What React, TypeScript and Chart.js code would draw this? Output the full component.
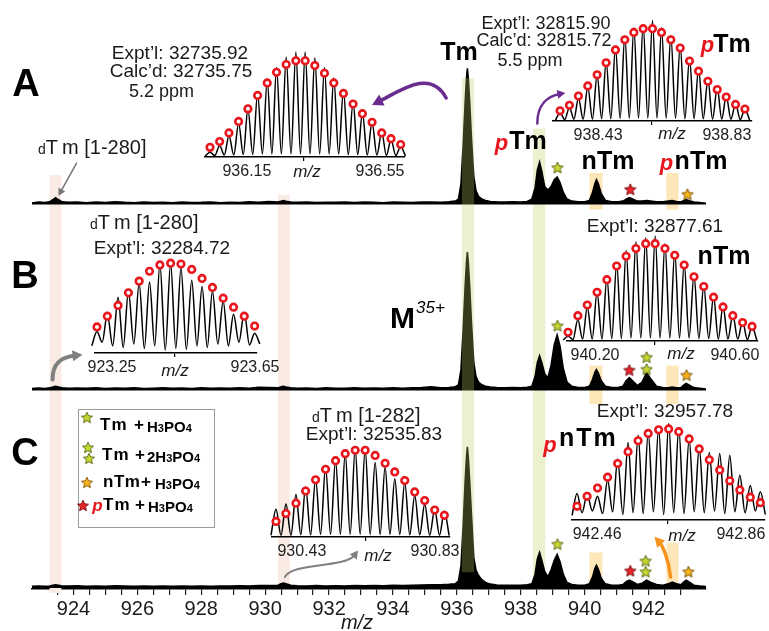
import React, { useEffect, useRef } from 'react';
import { Chart, registerables } from 'chart.js';

Chart.register(...registerables);

const FONT = '"Liberation Sans", Arial, Helvetica, sans-serif';

// ================= main spectra (shared m/z grid, three panels) =================
const mzGrid = [
  922.70, 922.90, 923.10, 923.25, 923.35, 923.44, 923.53, 923.65, 923.85, 924.10,
  924.40, 924.70, 925.00, 925.30, 925.60, 925.90, 926.20, 926.50, 926.80, 927.10,
  927.40, 927.70, 928.00, 928.30, 928.60, 928.90, 929.20, 929.50, 929.80, 930.10,
  930.40, 930.50, 930.57, 930.65, 930.80, 931.00, 931.30, 931.60, 931.90, 932.20,
  932.50, 932.80, 933.10, 933.40, 933.70, 934.00, 934.30, 934.60, 934.90, 935.20,
  935.50, 935.75, 935.95, 936.05, 936.13, 936.20, 936.26, 936.30, 936.33, 936.36,
  936.40, 936.46, 936.53, 936.60, 936.68, 936.78, 936.90, 937.05, 937.25, 937.50,
  937.75, 938.00, 938.20, 938.35, 938.45, 938.52, 938.59, 938.66, 938.75, 938.85,
  938.95, 939.05, 939.14, 939.23, 939.33, 939.45, 939.60, 939.80, 940.00, 940.15,
  940.25, 940.32, 940.37, 940.43, 940.52, 940.65, 940.85, 941.05, 941.20, 941.30,
  941.40, 941.50, 941.65, 941.80, 941.94, 942.08, 942.25, 942.45, 942.62, 942.74,
  942.88, 943.02, 943.10, 943.18, 943.28, 943.42, 943.60, 943.80,
];
const intensityA = [
  1.2, 1.8, 1.5, 2, 3.5, 5, 3.5, 2, 1.6, 1.9,
  1.4, 1.8, 1.5, 2.0, 1.6, 1.4, 1.9, 1.5, 1.7, 1.4,
  1.8, 1.5, 1.6, 1.9, 1.4, 1.7, 1.5, 2.0, 1.6, 2.2,
  1.8, 2.5, 3, 2.5, 1.8, 1.6, 1.9, 1.5, 1.7, 1.6,
  1.9, 1.5, 1.8, 1.6, 1.4, 1.9, 1.7, 1.5, 1.8, 1.9,
  1.7, 2.0, 2.5, 4, 15, 44, 74, 91, 98.6, 91,
  75, 47, 20, 10, 6, 4, 3, 2.3, 2, 1.8,
  2.0, 1.8, 2.2, 4, 12, 25, 30.7, 24, 13, 10.5,
  13, 18, 20, 16, 9, 4, 2.5, 2, 2, 3,
  9, 15, 17.9, 15, 8, 3, 2, 2, 2.5, 4,
  5, 4, 2.5, 2.5, 3, 2.5, 2, 2, 2.5, 2.9,
  2.3, 2, 3, 3.6, 2.8, 1.8, 1.5, 1,
];
const intensityB = [
  1.3, 1.6, 1.4, 1.8, 2.5, 2.9, 2.5, 1.8, 1.5, 1.7,
  1.5, 1.9, 1.4, 1.7, 1.5, 1.8, 1.4, 1.6, 1.9, 1.5,
  1.7, 1.4, 1.8, 1.5, 1.7, 1.5, 1.9, 1.6, 2.2, 2.0,
  1.8, 2.6, 3, 2.5, 1.8, 1.5, 1.7, 1.4, 1.8, 1.6,
  1.5, 1.8, 1.6, 1.7, 1.5, 1.9, 1.6, 1.8, 2.0, 2.6,
  1.9, 2.1, 2.6, 4, 15, 45, 75, 92, 100, 92,
  76, 48, 20, 10, 6, 4, 3, 2.4, 2, 1.9,
  2.0, 1.8, 2.2, 3, 10, 20, 25, 20, 12, 9,
  18, 33, 40, 32, 16, 6, 3, 2, 2, 3,
  8, 13, 15, 12.5, 7, 3, 2, 2, 3, 7,
  9.3, 7, 3.5, 6, 12.9, 8, 3, 2, 1.8, 2.4,
  1.8, 2, 3.8, 5, 3.8, 2, 1.5, 1,
];
const intensityC = [
  1.2, 1.5, 1.3, 1.5, 2, 2.3, 2, 1.5, 1.4, 1.6,
  1.3, 1.5, 1.2, 1.6, 1.4, 1.3, 1.5, 1.2, 1.4, 1.3,
  1.5, 1.3, 1.4, 1.2, 1.5, 1.4, 1.6, 1.4, 1.8, 1.7,
  2, 3, 3.6, 3, 2, 1.6, 1.5, 1.7, 1.4, 1.6,
  1.5, 1.7, 1.6, 1.8, 1.6, 1.9, 1.7, 2.0, 2.2, 2.4,
  2.3, 2.6, 3, 5, 16, 46, 77, 94, 102, 94,
  78, 52, 22, 13, 9, 6, 4, 2.8, 2.2, 2,
  2.0, 2.0, 2.3, 3, 10, 21, 25.7, 20, 12, 8,
  13, 20, 24.3, 19, 10, 4, 2.5, 2, 2, 3,
  8, 14, 16.4, 13.5, 7, 3, 2, 2, 2.5, 4.5,
  5.7, 4.5, 2.5, 3.5, 5.7, 4, 2.5, 2, 3, 4.3,
  3, 2.3, 4.2, 5.7, 4.2, 2, 1.5, 1,
];
const xTickLabels = [924, 926, 928, 930, 932, 934, 936, 938, 940, 942];

// star markers [m/z, intensity]
const greenStarsA = [[939.15, 26.4]];
const greenStarsB = [[939.15, 46.4], [941.94, 23.6], [941.94, 15.0]];
const greenStarsC = [[939.15, 31.4], [941.91, 19.3], [941.91, 11.4]];
const redStarsA = [[941.43, 10.7]];
const redStarsB = [[941.40, 14.3]];
const redStarsC = [[941.43, 12.1]];
const orangeStarsA = [[943.22, 7.1]];
const orangeStarsB = [[943.19, 10.7]];
const orangeStarsC = [[943.25, 11.4]];

// ================= isotope insets =================
const a1Mz = [936.039, 936.068, 936.096, 936.125, 936.153, 936.182, 936.211, 936.239, 936.268, 936.297, 936.325, 936.354, 936.383, 936.411, 936.440, 936.469, 936.497, 936.526, 936.555, 936.583, 936.612];
const a1Peak = [5, 12, 22, 35, 50, 66, 80, 93, 104, 109, 109, 103, 93, 82, 69, 57, 46, 36, 26, 18, 11];
const a1Valley = [1, 1.5, 2, 2, 2.5, 2.5, 3, 3, 3, 3, 3, 3, 3, 3, 3, 2.5, 2.5, 2, 2, 1.5, 1.5, 1];
const a1Calc = [10, 16, 25, 37, 50, 64, 77, 88, 96, 100, 100, 95, 87, 77, 66, 55, 45, 36, 25, 19, 13];

const a2Mz = [938.312, 938.341, 938.369, 938.398, 938.427, 938.455, 938.484, 938.513, 938.541, 938.570, 938.599, 938.627, 938.656, 938.685, 938.714, 938.742, 938.771, 938.800, 938.828, 938.857, 938.886];
const a2Peak = [9, 15, 25, 37, 50, 65, 80, 92, 101, 104, 109, 101, 92, 82, 68, 57, 45, 36, 27, 19, 13];
const a2Valley = [1, 1.5, 2, 2, 2, 2.5, 2.5, 3, 3, 3, 3, 3, 3, 3, 2.5, 2.5, 2.5, 2, 2, 2, 1.5, 1];
const a2Calc = [11, 17, 27, 38, 50, 63, 77, 88, 96, 100, 100, 96, 88, 79, 65, 54, 43, 34, 26, 18, 13];

const b1Mz = [923.208, 923.237, 923.267, 923.296, 923.326, 923.355, 923.384, 923.414, 923.443, 923.473, 923.502, 923.531, 923.561, 923.590, 923.620, 923.649];
const b1Peak = [24, 43, 62, 69, 78, 79, 99, 100, 95, 81, 74, 69, 58, 43, 45, 22];
const b1Valley = [8, 12, 8, 6, 10, 5, 8, 3, 5, 4, 8, 6, 10, 8, 12, 9, 10];
const b1Calc = [29, 41, 53, 67, 80, 91, 98, 100, 99, 93, 83, 73, 61, 51, 41, 30];

const b2Mz = [940.123, 940.151, 940.178, 940.206, 940.234, 940.262, 940.289, 940.317, 940.345, 940.372, 940.400, 940.428, 940.455, 940.483, 940.511, 940.539, 940.566, 940.594, 940.622, 940.649];
const b2Peak = [5, 22, 35, 50, 65, 80, 93, 102, 106, 108, 100, 92, 80, 68, 57, 46, 36, 27, 20, 15];
const b2Valley = [1, 1.5, 2, 2, 2, 2.5, 2.5, 3, 3, 3, 3, 3, 3, 3, 2.5, 2.5, 2, 2, 2, 1.5, 1];
const b2Calc = [9, 26, 37, 50, 63, 77, 87, 95, 100, 100, 95, 88, 78, 66, 56, 45, 35, 26, 19, 15];

const c1Mz = [930.352, 930.382, 930.412, 930.441, 930.471, 930.501, 930.531, 930.560, 930.590, 930.620, 930.650, 930.680, 930.709, 930.739, 930.769, 930.799, 930.829, 930.858];
const c1Peak = [32, 38, 49, 58, 67, 81, 89, 97, 102, 102, 86, 81, 67, 63, 48, 38, 32, 30];
const c1Valley = [2, 2, 2, 2.5, 2.5, 3, 3, 3, 3, 3, 3, 3, 3, 3, 2.5, 2.5, 2, 2, 1.5];
const c1Calc = [18, 27, 39, 53, 66, 78, 88, 96, 100, 100, 94, 85, 75, 65, 52, 42, 31, 25];

const c2Mz = [942.404, 942.432, 942.461, 942.489, 942.517, 942.546, 942.574, 942.602, 942.631, 942.659, 942.687, 942.716, 942.744, 942.772, 942.801, 942.829, 942.857, 942.886, 942.914];
const c2Peak = [29, 28, 26, 44, 67, 85, 93, 97, 101, 106, 101, 89, 80, 74, 73, 71, 49, 38, 31];
const c2Valley = [5, 8, 10, 7, 9, 6, 8, 7, 9, 6, 8, 7, 9, 8, 10, 7, 9, 8, 10, 6];
const c2Calc = [15, 26, 35, 47, 62, 75, 87, 95, 99, 100, 97, 89, 78, 66, 55, 43, 33, 25, 19];

// ================= layout / style =================
const CANVAS_W = 769;
const CANVAS_H = 631;
const X_AXIS_H = 42;
const PLOT_BOTTOM = CANVAS_H - X_AXIS_H;
const PANEL_BASE = { yA: 200, yB: 388, yC: 588 };
const UNIT_PX = 1.4;
const RED = '#e8161d';

const STAR_GREEN = { fill: '#c5d631', stroke: '#5a6512' };
const STAR_RED = { fill: '#e8232a', stroke: '#7a0d10' };
const STAR_ORANGE = { fill: '#f7b21e', stroke: '#7d5300' };

// highlight bands: x in m/z, vertical limits given as [axis, value]
const highlightBands = [
  { from: 923.25, to: 923.62, top: ['yA', 21.4], bottom: ['yC', -3.6], color: '#f9ebe4', overlay: false },
  { from: 930.40, to: 930.77, top: ['yA', 7.1], bottom: ['yC', 2.9], color: '#f9ebe4', overlay: false },
  { from: 938.38, to: 938.77, top: ['yA', 55], bottom: ['yC', 0], color: '#ecf0cf', overlay: false },
  { from: 940.15, to: 940.56, top: ['yA', 22.9], bottom: ['yA', -3.6], color: '#fde7b8', overlay: false },
  { from: 942.56, to: 942.94, top: ['yA', 22.9], bottom: ['yA', -3.6], color: '#fde7b8', overlay: false },
  { from: 940.15, to: 940.56, top: ['yB', 17.9], bottom: ['yB', -10], color: '#fde7b8', overlay: false },
  { from: 942.56, to: 942.94, top: ['yB', 17.9], bottom: ['yB', -10], color: '#fde7b8', overlay: false },
  { from: 940.15, to: 940.56, top: ['yC', 25.7], bottom: ['yC', 2.1], color: '#fde7b8', overlay: false },
  { from: 942.56, to: 942.94, top: ['yC', 32.9], bottom: ['yC', 2.9], color: '#fde7b8', overlay: false },
  { from: 936.16, to: 936.54, top: ['yA', 91.4], bottom: ['yC', 11.4], color: 'rgba(190,205,95,0.29)', overlay: true },
];

// annotation arrows: points in [m/z, value] on the given panel axis
const arrows = [
  { axis: 'yA', pts: [[935.665, 77.1], [935.163, 98.6], [934.223, 82.1], [933.345, 72.1]], color: '#6a2c8e', width: 3.5, head: 11 },
  { axis: 'yA', pts: [[938.519, 58.6], [938.519, 72.9], [938.864, 78.6], [939.397, 80.7]], color: '#6a2c8e', width: 2.5, head: 8 },
  { axis: 'yA', pts: [[924.094, 30], [923.53, 6.4]], color: '#777777', width: 1.5, head: 7 },
  { axis: 'yB', pts: [[923.342, 7.9], [923.342, 20], [923.624, 24.3], [924.282, 25.7]], color: '#7f7f7f', width: 4, head: 10 },
  { axis: 'yC', pts: [[930.617, 7.9], [930.836, 18.6], [932.498, 14.3], [932.906, 27.1]], color: '#808080', width: 2, head: 8 },
  { axis: 'yC', pts: [[942.69, 7.9], [942.627, 21.4], [942.439, 30.7], [942.187, 37.1]], color: '#f7941d', width: 3.5, head: 10 },
];

function panelRange(axis: 'yA' | 'yB' | 'yC') {
  const base = PANEL_BASE[axis];
  return { min: -(PLOT_BOTTOM - base) / UNIT_PX, max: base / UNIT_PX };
}

function makeStarCanvas(fill: string, stroke: string, R: number) {
  const size = Math.ceil(R * 2 + 4);
  const c = document.createElement('canvas');
  c.width = size;
  c.height = size;
  const g = c.getContext('2d')!;
  g.beginPath();
  for (let i = 0; i < 10; i++) {
    const ang = -Math.PI / 2 + (i * Math.PI) / 5;
    const rad = i % 2 === 0 ? R : R * 0.46;
    const px = size / 2 + rad * Math.cos(ang);
    const py = size / 2 + rad * Math.sin(ang);
    if (i === 0) g.moveTo(px, py);
    else g.lineTo(px, py);
  }
  g.closePath();
  g.fillStyle = fill;
  g.fill();
  g.lineWidth = 1;
  g.strokeStyle = stroke;
  g.stroke();
  return c;
}

function drawBands(chart: any, overlay: boolean) {
  const { ctx, scales } = chart;
  ctx.save();
  for (const b of highlightBands) {
    if (b.overlay !== overlay) continue;
    const x0 = scales.x.getPixelForValue(b.from);
    const x1 = scales.x.getPixelForValue(b.to);
    const y0 = scales[b.top[0] as string].getPixelForValue(b.top[1] as number);
    const y1 = scales[b.bottom[0] as string].getPixelForValue(b.bottom[1] as number);
    ctx.fillStyle = b.color;
    ctx.fillRect(x0, y0, x1 - x0, y1 - y0);
  }
  ctx.restore();
}

function drawArrows(chart: any) {
  const { ctx, scales } = chart;
  for (const a of arrows) {
    const P = a.pts.map(([m, v]) => [scales.x.getPixelForValue(m), scales[a.axis].getPixelForValue(v)]);
    const end = P[P.length - 1];
    const prev = P[P.length - 2];
    const ang = Math.atan2(end[1] - prev[1], end[0] - prev[0]);
    const cx = Math.cos(ang), sy = Math.sin(ang);
    const bx = end[0] - cx * a.head * 0.7, by = end[1] - sy * a.head * 0.7;
    ctx.save();
    ctx.strokeStyle = a.color;
    ctx.fillStyle = a.color;
    ctx.lineWidth = a.width;
    ctx.lineCap = 'round';
    ctx.beginPath();
    ctx.moveTo(P[0][0], P[0][1]);
    if (P.length === 4) ctx.bezierCurveTo(P[1][0], P[1][1], P[2][0], P[2][1], bx, by);
    else ctx.lineTo(bx, by);
    ctx.stroke();
    const h = a.head, w = a.head * 0.55;
    ctx.beginPath();
    ctx.moveTo(end[0], end[1]);
    ctx.lineTo(end[0] - h * cx + w * sy, end[1] - h * sy - w * cx);
    ctx.lineTo(end[0] - h * cx - w * sy, end[1] - h * sy + w * cx);
    ctx.closePath();
    ctx.fill();
    ctx.restore();
  }
}

const decorPlugin = {
  id: 'decor',
  beforeDatasetsDraw(chart: any) { drawBands(chart, false); },
  afterDatasetsDraw(chart: any) { drawBands(chart, true); drawArrows(chart); },
};

function MainChart() {
  const ref = useRef<HTMLCanvasElement>(null);
  useEffect(() => {
    const green = makeStarCanvas(STAR_GREEN.fill, STAR_GREEN.stroke, 6);
    const red = makeStarCanvas(STAR_RED.fill, STAR_RED.stroke, 6);
    const orange = makeStarCanvas(STAR_ORANGE.fill, STAR_ORANGE.stroke, 6);
    const spectrum = (vals: number[], axis: string) => ({
      type: 'line',
      data: mzGrid.map((x, i) => ({ x, y: vals[i] })),
      yAxisID: axis,
      borderColor: '#000',
      backgroundColor: '#000',
      borderWidth: 1.6,
      fill: 'origin',
      pointRadius: 0,
      tension: 0,
      order: 2,
    });
    const stars = (pts: number[][], axis: string, img: HTMLCanvasElement) => ({
      type: 'scatter',
      data: pts.map(([x, y]) => ({ x, y })),
      yAxisID: axis,
      pointStyle: img,
      pointRadius: 6,
      order: 0,
      clip: false,
    });
    const chart = new Chart(ref.current!, {
      type: 'line',
      data: {
        datasets: [
          spectrum(intensityA, 'yA'),
          spectrum(intensityB, 'yB'),
          spectrum(intensityC, 'yC'),
          stars(greenStarsA, 'yA', green),
          stars(greenStarsB, 'yB', green),
          stars(greenStarsC, 'yC', green),
          stars(redStarsA, 'yA', red),
          stars(redStarsB, 'yB', red),
          stars(redStarsC, 'yC', red),
          stars(orangeStarsA, 'yA', orange),
          stars(orangeStarsB, 'yB', orange),
          stars(orangeStarsC, 'yC', orange),
        ] as any,
      },
      options: {
        animation: false,
        responsive: false,
        devicePixelRatio: 1,
        events: [],
        layout: { padding: { left: 32, right: 63, top: 0, bottom: 0 } },
        plugins: { legend: { display: false }, tooltip: { enabled: false }, title: { display: false } },
        scales: {
          x: {
            type: 'linear',
            position: 'bottom',
            min: 922.7,
            max: 943.8,
            afterBuildTicks: (s: any) => {
              s.ticks = s.ticks.filter((t: any) => Math.abs(t.value * 2 - Math.round(t.value * 2)) < 1e-6);
            },
            afterFit: (s: any) => { s.height = X_AXIS_H; },
            ticks: {
              stepSize: 0.5,
              autoSkip: false,
              maxRotation: 0,
              padding: 2,
              color: '#1a1a1a',
              font: { family: FONT, size: 20 },
              callback: (v: any) => (xTickLabels.includes(Number(v)) ? String(v) : ''),
            },
            grid: { display: true, drawOnChartArea: false, drawTicks: true, tickLength: 6, color: '#222', lineWidth: 1.2 },
            border: { display: true, color: '#000', width: 1.5 },
          },
          yA: { type: 'linear', display: false, ...panelRange('yA') },
          yB: { type: 'linear', display: false, ...panelRange('yB') },
          yC: { type: 'linear', display: false, ...panelRange('yC') },
        },
      } as any,
      plugins: [decorPlugin],
    });
    return () => chart.destroy();
  }, []);
  return (
    <canvas
      ref={ref}
      width={CANVAS_W}
      height={CANVAS_H}
      style={{ position: 'absolute', left: 0, top: 0, width: CANVAS_W, height: CANVAS_H }}
    />
  );
}

type InsetSpec = {
  id: string; mz: number[]; peak: number[]; valley: number[]; calc: number[];
  lo: number; hi: number; mid: number; xMin: number; xMax: number; yMax: number;
  left: number; right: number; top: number; axisY: number;
};

const insetSpecs: InsetSpec[] = [
  { id: 'A1', mz: a1Mz, peak: a1Peak, valley: a1Valley, calc: a1Calc, lo: 936.15, hi: 936.55, mid: 936.319, xMin: 936.024, xMax: 936.625, yMax: 114.7, left: 205, right: 405, top: 40, axisY: 157 },
  { id: 'A2', mz: a2Mz, peak: a2Peak, valley: a2Valley, calc: a2Calc, lo: 938.43, hi: 938.83, mid: 938.597, xMin: 938.29, xMax: 938.908, yMax: 115.3, left: 553, right: 752, top: 8, axisY: 121 },
  { id: 'B1', mz: b1Mz, peak: b1Peak, valley: b1Valley, calc: b1Calc, lo: 923.25, hi: 923.65, mid: 923.426, xMin: 923.2025, xMax: 923.6556, yMax: 107.3, left: 95, right: 257, top: 250, axisY: 353 },
  { id: 'B2', mz: b2Mz, peak: b2Peak, valley: b2Valley, calc: b2Calc, lo: 940.2, hi: 940.6, mid: 940.371, xMin: 940.12, xMax: 940.666, yMax: 115.5, left: 567, right: 758, top: 222, axisY: 341 },
  { id: 'C1', mz: c1Mz, peak: c1Peak, valley: c1Valley, calc: c1Calc, lo: 930.43, hi: 930.83, mid: 930.62, xMin: 930.34, xMax: 930.875, yMax: 106.5, left: 272, right: 450, top: 438, axisY: 537 },
  { id: 'C2', mz: c2Mz, peak: c2Peak, valley: c2Valley, calc: c2Calc, lo: 942.46, hi: 942.86, mid: 942.657, xMin: 942.39, xMax: 942.927, yMax: 111.3, left: 572, right: 765, top: 412, axisY: 520 },
];

function profile(mz: number[], peak: number[], valley: number[]) {
  const pts: { x: number; y: number }[] = [];
  const n = mz.length;
  for (let i = 0; i <= n; i++) {
    const vx = i === 0 ? mz[0] - (mz[1] - mz[0]) / 2 : i === n ? mz[n - 1] + (mz[n - 1] - mz[n - 2]) / 2 : (mz[i - 1] + mz[i]) / 2;
    pts.push({ x: vx, y: valley[i] });
    if (i < n) pts.push({ x: mz[i], y: peak[i] });
  }
  return pts;
}

const PADX = 30;
const INSET_AXIS_H = 30;

function Inset({ spec }: { spec: InsetSpec }) {
  const ref = useRef<HTMLCanvasElement>(null);
  const w = spec.right - spec.left + 2 * PADX;
  const h = spec.axisY - spec.top + INSET_AXIS_H;
  useEffect(() => {
    const chart = new Chart(ref.current!, {
      type: 'line',
      data: {
        datasets: [
          {
            type: 'scatter',
            data: spec.mz.map((x, i) => ({ x, y: spec.calc[i] })),
            pointRadius: 3.3,
            pointBorderWidth: 2.6,
            pointBorderColor: RED,
            pointBackgroundColor: '#fff',
            borderColor: RED,
            backgroundColor: '#fff',
            showLine: false,
            order: 0,
            clip: false,
          },
          {
            type: 'line',
            data: profile(spec.mz, spec.peak, spec.valley),
            borderColor: '#000',
            borderWidth: 1.5,
            pointRadius: 0,
            fill: false,
            cubicInterpolationMode: 'monotone',
            order: 1,
            clip: false,
          },
        ] as any,
      },
      options: {
        animation: false,
        responsive: false,
        devicePixelRatio: 1,
        events: [],
        layout: { padding: { left: PADX, right: PADX, top: 0, bottom: 0 } },
        plugins: { legend: { display: false }, tooltip: { enabled: false } },
        scales: {
          x: {
            type: 'linear',
            min: spec.xMin,
            max: spec.xMax,
            afterBuildTicks: (s: any) => { s.ticks = [{ value: spec.lo }, { value: spec.mid }, { value: spec.hi }]; },
            afterFit: (s: any) => { s.height = INSET_AXIS_H; },
            ticks: {
              autoSkip: false,
              maxRotation: 0,
              padding: 1,
              color: '#222',
              font: { family: FONT, size: 16 },
              callback: (v: any) => (Math.abs(Number(v) - spec.mid) < 1e-9 ? '' : Number(v).toFixed(2)),
            },
            grid: {
              display: true,
              drawOnChartArea: false,
              drawTicks: true,
              tickLength: 4,
              lineWidth: 1.2,
              color: (c: any) => (c.tick && Math.abs(c.tick.value - spec.mid) < 1e-9 ? '#000' : 'rgba(0,0,0,0)'),
            },
            border: { display: true, color: '#000', width: 1.5 },
          },
          y: { type: 'linear', display: false, min: 0, max: spec.yMax },
        },
      } as any,
    });
    return () => chart.destroy();
  }, [spec]);
  return (
    <canvas
      ref={ref}
      width={w}
      height={h}
      style={{ position: 'absolute', left: spec.left - PADX, top: spec.top, width: w, height: h }}
    />
  );
}

type LP = {
  x: number; y: number; size?: number; bold?: boolean; italic?: boolean; color?: string;
  align?: 'left' | 'center' | 'right'; ls?: number; children: React.ReactNode;
};
function L({ x, y, size = 19, bold, italic, color = '#1a1a1a', align = 'center', ls, children }: LP) {
  const tx = align === 'center' ? '-50%' : align === 'right' ? '-100%' : '0';
  return (
    <div
      style={{
        position: 'absolute', left: x, top: y, transform: `translate(${tx},-50%)`,
        fontSize: size, fontWeight: bold ? 700 : 400, fontStyle: italic ? 'italic' : 'normal',
        color, whiteSpace: 'nowrap', lineHeight: 1, letterSpacing: ls, fontFamily: FONT,
      }}
    >
      {children}
    </div>
  );
}

function P({ x, y, size = 22 }: { x: number; y: number; size?: number }) {
  return <L x={x} y={y} size={size} bold italic color={RED}>p</L>;
}

function DTm({ x, y, range }: { x: number; y: number; range: string }) {
  return (
    <L x={x} y={y} size={20} align="left">
      <span style={{ fontSize: 14 }}>d</span>
      <span style={{ marginRight: 4 }}>T</span>m
      {' ' + range}
    </L>
  );
}

function Chem({ pre = '' }: { pre?: string }) {
  return (
    <span style={{ fontSize: 15, fontWeight: 700 }}>
      {pre}H<span style={{ fontSize: 11 }}>3</span>PO<span style={{ fontSize: 11 }}>4</span>
    </span>
  );
}

function starPoints(cx: number, cy: number, R: number) {
  const pts: string[] = [];
  for (let i = 0; i < 10; i++) {
    const ang = -Math.PI / 2 + (i * Math.PI) / 5;
    const rad = i % 2 === 0 ? R : R * 0.46;
    pts.push(`${(cx + rad * Math.cos(ang)).toFixed(2)},${(cy + rad * Math.sin(ang)).toFixed(2)}`);
  }
  return pts.join(' ');
}

function LegendStar({ x, y, c }: { x: number; y: number; c: { fill: string; stroke: string } }) {
  return (
    <svg width={14} height={14} style={{ position: 'absolute', left: x - 7, top: y - 7 }}>
      <polygon points={starPoints(7, 7, 5.8)} fill={c.fill} stroke={c.stroke} strokeWidth={0.9} />
    </svg>
  );
}

export default function App() {
  return (
    <div
      style={{
        position: 'absolute', left: 0, top: 0, width: CANVAS_W, height: CANVAS_H,
        overflow: 'hidden', background: '#fff', fontFamily: FONT,
      }}
    >
      <MainChart />
      {insetSpecs.map((s) => (
        <Inset key={s.id} spec={s} />
      ))}

      {/* axis title */}
      <L x={357} y={622} size={20} italic>m/z</L>

      {/* ---------- panel A ---------- */}
      <L x={26} y={83} size={38} bold color="#000">A</L>
      <L x={180} y={52}>Expt’l: 32735.92</L>
      <L x={181} y={70}>Calc’d: 32735.75</L>
      <L x={129} y={91} size={18} align="left">5.2 ppm</L>
      <DTm x={38} y={147} range="[1-280]" />
      <L x={459} y={51} size={25} bold color="#000">Tm</L>
      <L x={546} y={23} size={18}>Expt’l: 32815.90</L>
      <L x={544} y={39.5} size={18}>Calc’d: 32815.72</L>
      <L x={530} y={60} size={18}>5.5 ppm</L>
      <P x={707.5} y={45.3} />
      <L x={732} y={43} size={25} bold color="#000">Tm</L>
      <P x={501.5} y={143.3} />
      <L x={528} y={140} size={25} bold color="#000">Tm</L>
      <L x={608} y={160} size={25} bold color="#000">nTm</L>
      <P x={666.5} y={163.3} />
      <L x={701} y={160} size={25} bold color="#000">nTm</L>
      <L x={307} y={171} size={17} italic>m/z</L>
      <L x={672} y={133} size={17} italic>m/z</L>

      {/* ---------- panel B ---------- */}
      <L x={25} y={275} size={38} bold color="#000">B</L>
      <DTm x={90} y={222} range="[1-280]" />
      <L x={162} y={247}>Expt’l: 32284.72</L>
      <L x={655} y={225}>Expt’l: 32877.61</L>
      <L x={724} y={255} size={25} bold color="#000">nTm</L>
      <L x={390} y={318} size={30} bold align="left" color="#000">
        M<span style={{ fontSize: 17, fontWeight: 400, fontStyle: 'italic', position: 'relative', top: -15, marginLeft: 1 }}>35+</span>
      </L>
      <L x={175} y={370} size={17} italic>m/z</L>
      <L x={681} y={353} size={17} italic>m/z</L>

      {/* ---------- panel C ---------- */}
      <L x={25} y={452} size={38} bold color="#000">C</L>
      <DTm x={312} y={415} range="[1-282]" />
      <L x={374} y={433}>Expt’l: 32535.83</L>
      <P x={550} y={445.3} />
      <L x={559} y={437} size={25} bold align="left" ls={2} color="#000">nTm</L>
      <L x={665} y={410}>Expt’l: 32957.78</L>
      <L x={378} y={555} size={17} italic>m/z</L>
      <L x={682} y={535} size={17} italic>m/z</L>

      {/* legend */}
      <div
        style={{
          position: 'absolute', left: 78, top: 409, width: 137, height: 119,
          border: '1px solid #9a9a9a', boxSizing: 'border-box',
        }}
      />
      <LegendStar x={87} y={418} c={STAR_GREEN} />
      <L x={100} y={424} size={17} bold align="left" ls={1} color="#000">Tm</L>
      <L x={134} y={424} size={17} bold align="left" color="#000">+</L>
      <L x={147} y={425} align="left" color="#000"><Chem /></L>

      <LegendStar x={88} y={448} c={STAR_GREEN} />
      <LegendStar x={89} y={459} c={STAR_GREEN} />
      <L x={102} y={454} size={17} bold align="left" ls={1} color="#000">Tm</L>
      <L x={135} y={454} size={17} bold align="left" color="#000">+</L>
      <L x={147} y={455} align="left" color="#000"><Chem pre="2" /></L>

      <LegendStar x={87} y={483} c={STAR_ORANGE} />
      <L x={103} y={481} size={17} bold align="left" ls={0.5} color="#000">nTm</L>
      <L x={141} y={481} size={17} bold align="left" color="#000">+</L>
      <L x={155} y={482} align="left" color="#000"><Chem /></L>

      <LegendStar x={83} y={506} c={STAR_RED} />
      <P x={97.5} y={505.3} size={17} />
      <L x={103} y={504} size={17} bold align="left" ls={1} color="#000">Tm</L>
      <L x={135} y={504} size={17} bold align="left" color="#000">+</L>
      <L x={148} y={505} align="left" color="#000"><Chem /></L>
    </div>
  );
}
